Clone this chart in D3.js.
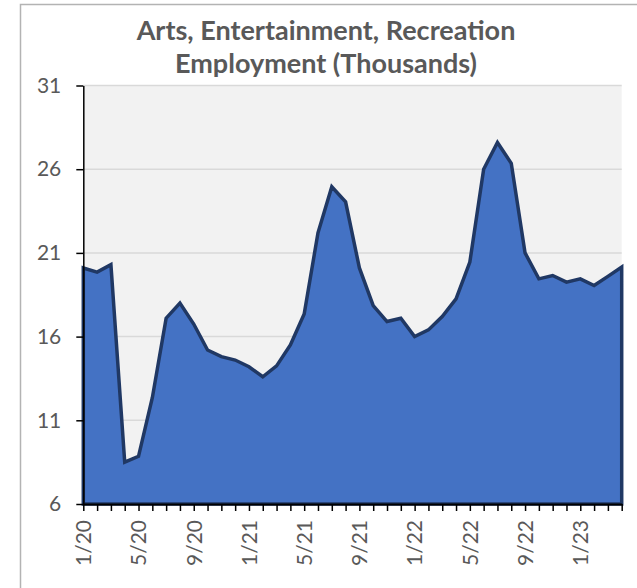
<!DOCTYPE html>
<html>
<head>
<meta charset="utf-8">
<style>
body { margin: 0; background: #fff; }
svg { display: block; }
</style>
</head>
<body>
<svg width="637" height="588" font-family="Lato, 'Open Sans', sans-serif"></svg>
<script src="https://d3js.org/d3.v7.min.js"></script>
<script>

// months 1/20 .. 4/23
const months = [
	'1/20', '2/20', '3/20', '4/20', '5/20', '6/20', '7/20', '8/20', '9/20', '10/20', '11/20', '12/20',
	'1/21', '2/21', '3/21', '4/21', '5/21', '6/21', '7/21', '8/21', '9/21', '10/21', '11/21', '12/21',
	'1/22', '2/22', '3/22', '4/22', '5/22', '6/22', '7/22', '8/22', '9/22', '10/22', '11/22', '12/22',
	'1/23', '2/23', '3/23', '4/23'
];

// employment, thousands
const employment = [
	20.1, 19.85, 20.3, 8.5, 8.85, 12.35, 17.1, 18.0, 16.75, 15.2, 14.8, 14.6,
	14.2, 13.6, 14.25, 15.5, 17.35, 22.2, 24.95, 24.05, 20.1, 17.85, 16.9, 17.1,
	16.0, 16.4, 17.2, 18.25, 20.45, 26.0, 27.6, 26.35, 21.0, 19.45, 19.65, 19.25,
	19.45, 19.05, 19.6, 20.15
];

const yTicks = [6, 11, 16, 21, 26, 31];
const labelledMonths = ['1/20', '5/20', '9/20', '1/21', '5/21', '9/21', '1/22', '5/22', '9/22', '1/23'];
const titleLines = ['Arts, Entertainment, Recreation', 'Employment (Thousands)'];

const svg = d3.select('svg');
const textColor = '#595959';

const plot = {left: 83.3, right: 621.7, top: 85.5, bottom: 504};

const x = d3.scalePoint()
	.domain(months)
	.range([plot.left, plot.right]);

const y = d3.scaleLinear()
	.domain([6, 31])
	.range([plot.bottom, plot.top]);

// chart border
svg.append('rect')
	.attr('x', 20.5)
	.attr('y', 4.5)
	.attr('width', 650)
	.attr('height', 620)
	.attr('fill', '#fff')
	.attr('stroke', '#b3b3b3')
	.attr('stroke-width', 1.5);

// title
svg.append('g')
	.selectAll('text')
	.data(titleLines)
	.join('text')
	.attr('x', 326)
	.attr('y', (d, i) => 40 + i * 33)
	.attr('text-anchor', 'middle')
	.attr('font-size', 27)
	.attr('font-weight', 'bold')
	.attr('fill', textColor)
	.text((d) => d);

// plot background
svg.append('rect')
	.attr('x', plot.left)
	.attr('y', plot.top)
	.attr('width', plot.right - plot.left)
	.attr('height', plot.bottom - plot.top)
	.attr('fill', '#f2f2f2');

// gridlines
svg.append('g')
	.selectAll('line')
	.data(yTicks.slice(1))
	.join('line')
	.attr('x1', plot.left)
	.attr('x2', plot.right)
	.attr('y1', (d) => y(d))
	.attr('y2', (d) => y(d))
	.attr('stroke', '#d9d9d9')
	.attr('stroke-width', 1.5);

// area
const area = d3.area()
	.x((d, i) => x(months[i]))
	.y0(y(6))
	.y1((d) => y(d));

svg.append('path')
	.datum(employment)
	.attr('d', area)
	.attr('fill', '#4472c4')
	.attr('stroke', '#203864')
	.attr('stroke-width', 3.5)
	.attr('stroke-linejoin', 'miter');

// y axis
const yAxis = svg.append('g')
	.attr('transform', `translate(${plot.left},0)`)
	.call(d3.axisLeft(y).tickValues(yTicks).tickSize(7).tickPadding(15).tickSizeOuter(0));
yAxis.select('.domain').attr('stroke', '#000').attr('stroke-width', 1.5);
yAxis.selectAll('.tick line').attr('stroke', '#000').attr('stroke-width', 1.5);
yAxis.selectAll('.tick text')
	.attr('font-size', 21)
	.attr('font-family', 'Lato, sans-serif')
	.attr('fill', textColor);

// x axis
const xAxis = svg.append('g')
	.attr('transform', `translate(0,${plot.bottom})`)
	.call(d3.axisBottom(x).tickSize(7).tickSizeOuter(0)
		.tickFormat((d) => labelledMonths.includes(d) ? d : ''));
xAxis.select('.domain').attr('stroke', '#000').attr('stroke-width', 2);
xAxis.selectAll('.tick line').attr('stroke', '#000').attr('stroke-width', 1.5);
xAxis.selectAll('.tick text')
	.attr('font-size', 21)
	.attr('font-family', 'Lato, sans-serif')
	.attr('fill', textColor)
	.attr('text-anchor', 'end')
	.attr('transform', 'translate(0,16) rotate(-90)')
	.attr('x', 0)
	.attr('y', 0)
	.attr('dy', '0.35em');

</script>
</body>
</html>
